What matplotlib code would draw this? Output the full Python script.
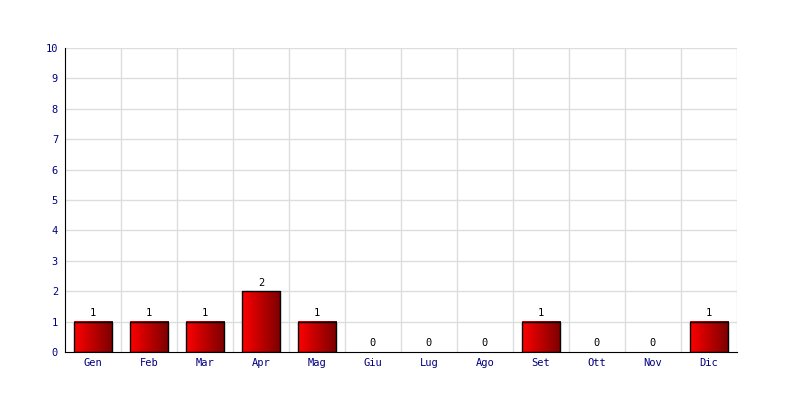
import numpy as np
import matplotlib.pyplot as plt
from matplotlib.colors import LinearSegmentedColormap

months = ["Gen", "Feb", "Mar", "Apr", "Mag", "Giu", "Lug", "Ago", "Set", "Ott", "Nov", "Dic"]
values = [1, 1, 1, 2, 1, 0, 0, 0, 1, 0, 0, 1]
y_ticks = list(range(0, 11))

plt.rcParams['font.family'] = ['DejaVu Sans Mono']

fig = plt.figure(figsize=(8, 4), dpi=100)
ax = fig.add_axes([65 / 800, 48 / 400, 672 / 800, 304 / 400])

n = len(months)
ax.set_xlim(0, n)
ax.set_ylim(0, 10)

# grid: category boundaries and integer lines
for xb in range(1, n + 1):
    ax.axvline(xb, color="#dddddd", lw=1, zorder=0)
for yv in y_ticks[1:]:
    ax.axhline(yv, color="#dddddd", lw=1, zorder=0)

cmap = LinearSegmentedColormap.from_list("redgrad", ["#ff0000", "#7a0000"])
grad = np.linspace(0, 1, 256).reshape(1, -1)
bar_w = 0.68

for i, v in enumerate(values):
    x0 = i + 0.5 - bar_w / 2
    if v > 0:
        ax.imshow(grad, cmap=cmap, aspect="auto", extent=[x0, x0 + bar_w, 0, v],
                  interpolation="bilinear", zorder=2)
        ax.add_patch(plt.Rectangle((x0, 0), bar_w, v, fill=False, ec="black", lw=1, zorder=3))
    ax.text(i + 0.5, v + 0.12, str(v), ha="center", va="bottom", fontsize=7.5, color="black")

ax.set_xticks([i + 0.5 for i in range(n)])
ax.set_xticklabels(months)
ax.set_yticks(y_ticks)
ax.tick_params(length=0, labelsize=7.5, labelcolor="#000080", pad=5)
ax.tick_params(axis="x", pad=4)

for s in ["top", "right"]:
    ax.spines[s].set_visible(False)
ax.spines["left"].set_color("black")
ax.spines["bottom"].set_color("black")
ax.set_xlim(0, n)
ax.set_ylim(0, 10)

fig.savefig("out.png", dpi=100)
